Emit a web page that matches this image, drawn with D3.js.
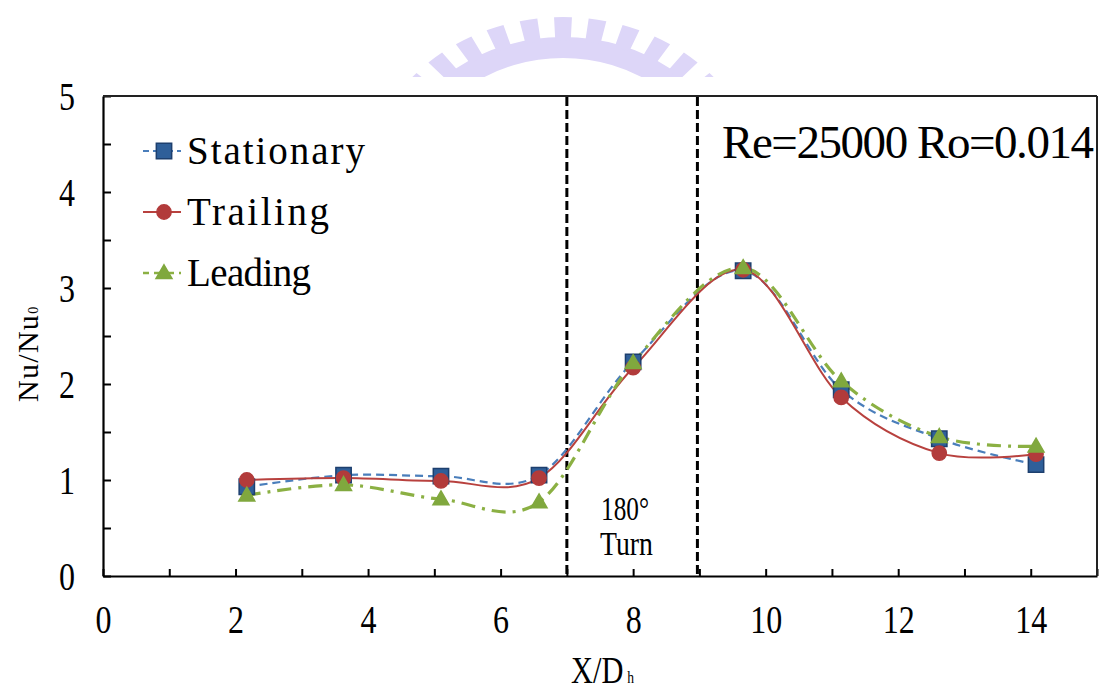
<!DOCTYPE html>
<html>
<head>
<meta charset="utf-8">
<script src="https://cdn.jsdelivr.net/npm/d3@7"></script>
<style>
  html, body { margin: 0; padding: 0; background: #fff; }
  svg { display: block; }
</style>
</head>
<body>
<svg id="chart" width="1102" height="690"></svg>
<script>
// Measurement stations along the channel (X/Dh)
const xPositions = [2.17, 3.63, 5.1, 6.58, 8.0, 9.66, 11.14, 12.62, 14.08];
// Normalised Nusselt number Nu/Nu0 for each wall condition
const stationary = [0.93, 1.05, 1.04, 1.05, 2.23, 3.18, 1.94, 1.43, 1.16];
const trailing   = [1.00, 1.02, 0.99, 1.02, 2.17, 3.19, 1.86, 1.28, 1.27];
const leading    = [0.84, 0.95, 0.80, 0.77, 2.22, 3.21, 2.03, 1.45, 1.35];
const seriesNames = ["Stationary", "Trailing", "Leading"];
// Bounds of the 180° turn region
const turnBounds = [7.0, 8.97];
const xTickLabels = [0, 2, 4, 6, 8, 10, 12, 14];
const yTickLabels = [0, 1, 2, 3, 4, 5];

const svg = d3.select("#chart");
const serif = "'Liberation Serif', 'Times New Roman', serif";

const x = d3.scaleLinear().domain([0, 15]).range([103, 1097]);
const y = d3.scaleLinear().domain([0, 5]).range([576, 96]);

// faint emblem behind the top of the figure
(function emblem() {
  const defs = svg.append("defs");
  defs.append("clipPath").attr("id", "emblemClip")
    .append("rect").attr("x", 0).attr("y", 0).attr("width", 1102).attr("height", 77);
  const g = svg.append("g").attr("clip-path", "url(#emblemClip)")
    .append("g")
    .attr("transform", "translate(563,190) scale(1.15,1)")
    .attr("fill", "#ddd6f8");
  g.append("path").attr("d", d3.arc()({
    innerRadius: 132, outerRadius: 153,
    startAngle: -Math.PI / 2.4, endAngle: Math.PI / 2.4
  }));
  d3.range(-50, 51, 10).forEach(a => {
    const r = a * Math.PI / 180;
    g.append("path").attr("d", d3.arc()({
      innerRadius: 150, outerRadius: 173,
      startAngle: r - 0.045, endAngle: r + 0.045
    }));
  });
})();

// x axis: ticks every unit pointing into the plot, labels on even values
const xAxis = d3.axisBottom(x)
  .tickValues(d3.range(0, 16, 1))
  .tickSize(-7).tickSizeOuter(0)
  .tickFormat(d => xTickLabels.includes(d) ? String(d) : "");
const gx = svg.append("g").attr("transform", `translate(0,${y(0)})`).call(xAxis);
gx.select(".domain").attr("stroke", "#000").attr("stroke-width", 2.2);
gx.selectAll(".tick line").attr("stroke", "#000").attr("stroke-width", 2);
gx.selectAll(".tick text")
  .attr("y", 57).attr("dy", 0)
  .attr("font-family", serif).attr("font-size", 40).attr("fill", "#000")
  .each(function () {
    const t = d3.select(this);
    if (t.text()) t.attr("textLength", t.text().length * 16).attr("lengthAdjust", "spacingAndGlyphs");
  });

// y axis: ticks every half unit pointing inward, labels on integers
const yAxis = d3.axisLeft(y)
  .tickValues(d3.range(0, 5.01, 0.5))
  .tickSize(-8).tickSizeOuter(0).tickPadding(28)
  .tickFormat(d => yTickLabels.includes(d) ? String(d) : "");
const gy = svg.append("g").attr("transform", `translate(${x(0)},0)`).call(yAxis);
gy.select(".domain").attr("stroke", "#000").attr("stroke-width", 2.2);
gy.selectAll(".tick line").attr("stroke", "#000").attr("stroke-width", 2);
gy.selectAll(".tick text")
  .attr("dy", "0.34em")
  .attr("font-family", serif).attr("font-size", 40).attr("fill", "#000")
  .each(function () {
    const t = d3.select(this);
    if (t.text()) t.attr("textLength", t.text().length * 16).attr("lengthAdjust", "spacingAndGlyphs");
  });

// top and right frame
svg.append("line").attr("x1", x(0)).attr("x2", x(15)).attr("y1", y(5)).attr("y2", y(5))
  .attr("stroke", "#222").attr("stroke-width", 2);
svg.append("line").attr("x1", x(15)).attr("x2", x(15)).attr("y1", y(5)).attr("y2", y(0))
  .attr("stroke", "#222").attr("stroke-width", 2);

// turn region boundaries
svg.selectAll(".turn").data(turnBounds).join("line")
  .attr("class", "turn")
  .attr("x1", d => x(d)).attr("x2", d => x(d))
  .attr("y1", y(5) + 1).attr("y2", y(0))
  .attr("stroke", "#000").attr("stroke-width", 3).attr("stroke-dasharray", "9,4");

// series definitions
const series = [
  { name: seriesNames[0], values: stationary, line: "#4a7ebb", dash: "8,5", width: 2.2,
    marker: "square", fill: "#2f5f99", edge: "#1d3f6e" },
  { name: seriesNames[1], values: trailing, line: "#b8413e", dash: null, width: 2,
    marker: "circle", fill: "#b23b3b", edge: "#b23b3b" },
  { name: seriesNames[2], values: leading, line: "#8bb043", dash: "14,7,3,7", width: 3.2,
    marker: "triangle", fill: "#80a83e", edge: "#80a83e" }
];

const line = d3.line()
  .x(d => x(d[0])).y(d => y(d[1]))
  .curve(d3.curveCardinal.tension(0));

const symbolFor = m => m === "square" ? d3.symbolSquare : m === "circle" ? d3.symbolCircle : d3.symbolTriangle;
const sizeFor = m => m === "square" ? 235 : m === "circle" ? 160 : 110;

series.forEach(s => {
  svg.append("path")
    .datum(xPositions.map((xv, i) => [xv, s.values[i]]))
    .attr("d", line)
    .attr("fill", "none")
    .attr("stroke", s.line)
    .attr("stroke-width", s.width)
    .attr("stroke-dasharray", s.dash);
});

series.forEach(s => {
  svg.append("g").selectAll("path")
    .data(xPositions.map((xv, i) => [xv, s.values[i]]))
    .join("path")
    .attr("transform", d => `translate(${x(d[0])},${y(d[1]) + (s.marker === "triangle" ? 1 : 0)})`)
    .attr("d", d3.symbol().type(symbolFor(s.marker)).size(sizeFor(s.marker)))
    .attr("fill", s.fill)
    .attr("stroke", s.edge)
    .attr("stroke-width", 1.5);
});

// legend
const legendRows = [151, 212, 273];
const legendWidths = [178, 142, 124];
series.forEach((s, i) => {
  const g = svg.append("g").attr("transform", `translate(0,${legendRows[i]})`);
  g.append("line").attr("x1", 143).attr("x2", 181).attr("y1", 0).attr("y2", 0)
    .attr("stroke", s.line).attr("stroke-width", s.marker === "triangle" ? 2.6 : 2)
    .attr("stroke-dasharray", s.marker === "square" ? "6,4,20,4,6" : s.marker === "triangle" ? "6,5,20,5,6" : null);
  g.append("path")
    .attr("transform", `translate(164,${s.marker === "triangle" ? 1 : 0})`)
    .attr("d", d3.symbol().type(symbolFor(s.marker)).size(sizeFor(s.marker)))
    .attr("fill", s.fill).attr("stroke", s.edge).attr("stroke-width", 1.5);
  g.append("text")
    .attr("x", 187).attr("y", 13)
    .attr("font-family", serif).attr("font-size", 39).attr("fill", "#000")
    .attr("textLength", legendWidths[i]).attr("lengthAdjust", "spacing")
    .text(s.name);
});

// flow condition note
svg.append("text")
  .attr("x", 722).attr("y", 158)
  .attr("font-family", serif).attr("font-size", 47).attr("fill", "#000")
  .attr("textLength", 372).attr("lengthAdjust", "spacing")
  .text("Re=25000 Ro=0.014");

// turn region annotation
svg.append("text")
  .attr("x", 601).attr("y", 520)
  .attr("font-family", serif).attr("font-size", 33).attr("fill", "#000")
  .attr("textLength", 48).attr("lengthAdjust", "spacingAndGlyphs")
  .text("180°");
svg.append("text")
  .attr("x", 600).attr("y", 555)
  .attr("font-family", serif).attr("font-size", 33).attr("fill", "#000")
  .attr("textLength", 53).attr("lengthAdjust", "spacingAndGlyphs")
  .text("Turn");

// axis titles (narrowed serif, small index letter on the baseline)
const xTitle = svg.append("text")
  .attr("transform", "translate(571,683) scale(0.8,1)")
  .attr("font-family", serif).attr("font-size", 38).attr("fill", "#000");
xTitle.append("tspan").text("X/D");
xTitle.append("tspan").attr("dx", 5).attr("font-size", 17).text("h");

const yTitle = svg.append("text")
  .attr("transform", "translate(38,402) rotate(-90)")
  .attr("font-family", serif).attr("font-size", 30).attr("fill", "#000")
  .attr("letter-spacing", 1.3);
yTitle.append("tspan").text("Nu/Nu");
yTitle.append("tspan").attr("font-size", 14).attr("letter-spacing", 0).text("0");
</script>
</body>
</html>
